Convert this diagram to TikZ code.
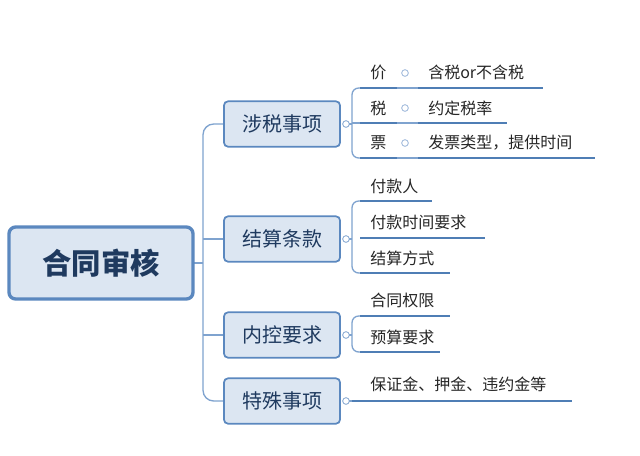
\documentclass[tikz,border=0pt]{standalone}
\usepackage{fontspec}
\setmainfont{Noto Sans CJK SC}
\begin{document}
\begin{tikzpicture}[x=0.75pt,y=-0.75pt,
  ln/.style={draw=lblue,line width=1pt},
  ul/.style={draw=ublue,line width=1.8pt},
  br/.style={draw=bblue,fill=bfill,rounded corners=3pt,line width=1.3pt,minimum width=87pt,minimum height=34pt,font=\fontsize{15}{18}\selectfont,text=tdark},
  lf/.style={anchor=west,font=\fontsize{12}{14}\selectfont,text=black!85,inner sep=0pt},
  cir/.style={circle,draw=lblue,fill=white,inner sep=0pt,minimum size=5pt,line width=0.6pt}]
\definecolor{lblue}{HTML}{7FA3CF}
\definecolor{ublue}{HTML}{4F7EB5}
\definecolor{bblue}{HTML}{5B88BF}
\definecolor{bfill}{HTML}{DCE6F2}
\definecolor{tdark}{HTML}{1F3A5F}
\useasboundingbox (0,0) rectangle (640,455);
\fill[white] (0,0) rectangle (640,455);
% connectors from root
\coordinate (j) at (203,263);
\draw[ln,rounded corners=6pt] (194,263) -- (203,263);
\draw[ln,rounded corners=8pt] (224,124) -- (203,124) -- (203,401) -- (224,401);
\draw[ln] (203,239) -- (224,239);
\draw[ln] (203,335) -- (224,335);
% root
\node[draw=bblue,fill=bfill,rounded corners=5pt,line width=2.5pt,minimum width=138pt,minimum height=54pt,font=\fontsize{22}{26}\selectfont\bfseries,text=tdark] (root) at (101,263) {合同审核};
\node[br] (b1) at (282,124) {涉税事项};
\node[br] (b2) at (282,239) {结算条款};
\node[br] (b3) at (282,335) {内控要求};
\node[br] (b4) at (282,401) {特殊事项};
% spines
\draw[ln] (346,124) -- (352,124);
\draw[ln,rounded corners=5pt] (360,88) -- (352,88) -- (352,158) -- (360,158);
\draw[ln] (352,123) -- (360,123);
\draw[ln] (346,239) -- (352,239);
\draw[ln,rounded corners=5pt] (360,201) -- (352,201) -- (352,273) -- (360,273);
\draw[ln] (346,335) -- (352,335);
\draw[ln,rounded corners=5pt] (360,316) -- (352,316) -- (352,352) -- (360,352);
\draw[ln] (346,401) -- (352,401);
% tax items
\node[lf] (p1) at (370,72) {价};
\node[lf] (p2) at (370,108) {税};
\node[lf] (p3) at (370,143) {票};
\foreach \y/\e in {88/543,123/507,158/595}{
  \draw[ul] (360,\y) -- (397,\y);
  \draw[ln] (397,\y) -- (405,\y) -- (418,\y);
  \draw[ul] (418,\y) -- (\e,\y);
}
\foreach \y in {73,108,143} \node[cir,draw=lblue!80] at (405,\y) {};
\node[lf] (q1) at (428,72) {含税or不含税};
\node[lf] (q2) at (428,108) {约定税率};
\node[lf] (q3) at (428,143) {发票类型，提供时间};
% settlement
\node[lf] (s1) at (370,186) {付款人};
\node[lf] (s2) at (370,222) {付款时间要求};
\node[lf] (s3) at (370,258) {结算方式};
\draw[ul] (360,201) -- (432,201);
\draw[ul] (360,238) -- (485,238);
\draw[ul] (360,273) -- (450,273);
% internal
\node[lf] (c1) at (370,300) {合同权限};
\node[lf] (c2) at (370,337) {预算要求};
\draw[ul] (360,316) -- (450,316);
\draw[ul] (360,352) -- (440,352);
% special
\node[lf] (t1) at (370,384) {保证金、押金、违约金等};
\draw[ul] (352,401) -- (572,401);
% collapse circles
\foreach \y in {124,239,335,401} \node[cir] at (346,\y) {};
\end{tikzpicture}
\end{document}
